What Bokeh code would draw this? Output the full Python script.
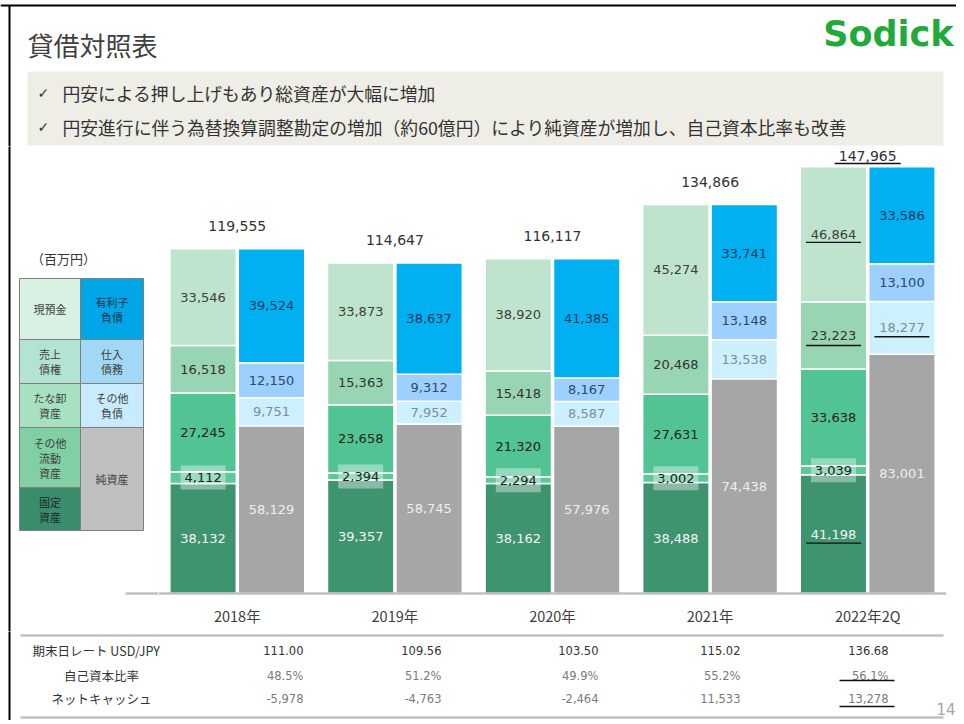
from bokeh.plotting import figure
from bokeh.models import Range1d, FactorRange, ColumnDataSource, Span
from bokeh.layouts import column, row
from bokeh.transform import dodge
from bokeh.core.properties import value
from bokeh.embed import file_html
from bokeh.resources import INLINE

# ---------------- data ----------------
years = ["2018年", "2019年", "2020年", "2021年", "2022年2Q"]
fixed_assets = [38132, 39357, 38162, 38488, 41198]
other_current = [4112, 2394, 2294, 3002, 3039]
inventories = [27245, 23658, 21320, 27631, 33638]
receivables = [16518, 15363, 15418, 20468, 23223]
cash = [33546, 33873, 38920, 45274, 46864]
net_assets = [58129, 58745, 57976, 74438, 83001]
other_liab = [9751, 7952, 8587, 13538, 18277]
payables = [12150, 9312, 8167, 13148, 13100]
debt = [39524, 38637, 41385, 33741, 33586]
totals = [119555, 114647, 116117, 134866, 147965]
fx_rate = [111.00, 109.56, 103.50, 115.02, 136.68]
equity_ratio = [48.5, 51.2, 49.9, 55.2, 56.1]
net_cash = [-5978, -4763, -2464, 11533, 13278]

title = "貸借対照表"
bullets = ["円安による押し上げもあり総資産が大幅に増加",
           "円安進行に伴う為替換算調整勘定の増加（約60億円）により純資産が増加し、自己資本比率も改善"]
row_labels = ["期末日レート USD/JPY", "自己資本比率", "ネットキャッシュ"]

# ---------------- styles ----------------
JP = value("Noto Sans CJK JP")
NUM = value("DejaVu Sans")
W = 956
Y_MID, Y_BASE, Y_TAB, Y_END_PX = 146, 593, 631, 720
LEG_W = 158

asset_series = [fixed_assets, other_current, inventories, receivables, cash]
asset_colors = ["#3f9470", "#5ec89a", "#52c493", "#98d6b3", "#bfe4cd"]
asset_text = ["#f4f4f4", "#222222", "#1e1e1e", "#333333", "#404040"]
liab_series = [net_assets, other_liab, payables, debt]
liab_colors = ["#a6a6a6", "#cdf0ff", "#9dcfff", "#00b0f0"]
liab_text = ["#eeeeee", "#7f8c99", "#2e4a66", "#17375e"]

OFF = 34.25 / 157.75
BW = 66.5 / 157.75
UPP = 155000 / 447  # data units per pixel


def base_fig(w, h, **kw):
    f = figure(width=w, height=h, title=None, x_axis_location=None, y_axis_location=None,
               min_border=0, outline_line_color=None, toolbar_location=None,
               output_backend="svg", background_fill_color="white",
               border_fill_color="white", **kw)
    f.xgrid.visible = False
    f.ygrid.visible = False
    return f


def pixfig(w, h, x0, x1, y0, y1):
    return base_fig(w, h, x_range=Range1d(x0, x1), y_range=Range1d(y1, y0))


# ---------------- header ----------------
head = pixfig(W, Y_MID, 0, W, 0, Y_MID)
head.line([0, W], [5, 5], line_color="black", line_width=2)
head.line([9, 9], [5, Y_MID + 10], line_color="black", line_width=2)
head.text(x=[27], y=[44], text=[title], text_font=JP, text_font_size="26px",
          text_color="#404040", text_baseline="middle", text_align="left")
head.text(x=[953], y=[33], text=["Sodick"], text_font=value("DejaVu Sans"),
          text_font_style="bold", text_font_size="35px", text_color="#1faa3a",
          text_baseline="middle", text_align="right")
head.quad(left=[27], right=[943], top=[71], bottom=[145], fill_color="#eeede6", line_color=None)
for yy, t in zip([92, 126], bullets):
    head.text(x=[37], y=[yy], text=["✓"], text_font=NUM, text_font_size="14px",
              text_color="#333333", text_baseline="middle", text_align="left")
    head.text(x=[62], y=[yy], text=[t], text_font=JP, text_font_size="17.8px",
              text_color="#333333", text_baseline="middle", text_align="left")

# ---------------- legend ----------------
leg = pixfig(LEG_W, Y_TAB - Y_MID, 0, LEG_W, Y_MID, Y_TAB)
leg.line([9, 9], [Y_MID - 10, Y_TAB + 10], line_color="black", line_width=2)
leg.line([125, LEG_W], [Y_BASE, Y_BASE], line_color="#c0c0c0", line_width=2.5)
leg.text(x=[63], y=[258], text=["（百万円）"], text_font=JP, text_font_size="13px",
         text_color="#333333", text_baseline="middle", text_align="center")
cells = [
    (19, 80, 278, 339, "#d8f1e3", ["現預金"], "#404040"),
    (19, 80, 339, 383, "#b3e3d2", ["売上", "債権"], "#404040"),
    (19, 80, 383, 427, "#a8e0c2", ["たな卸", "資産"], "#404040"),
    (19, 80, 427, 487, "#80d0a4", ["その他", "流動", "資産"], "#404040"),
    (19, 80, 487, 530, "#3a8d6c", ["固定", "資産"], "#1c2c24"),
    (80, 143, 278, 339, "#00a6e6", ["有利子", "負債"], "#1f3050"),
    (80, 143, 339, 383, "#a0d8f5", ["仕入", "債務"], "#404040"),
    (80, 143, 383, 427, "#c8ecfd", ["その他", "負債"], "#404040"),
    (80, 143, 427, 530, "#c0c0c0", ["純資産"], "#404040"),
]
for l, r, t, b, c, lines, tc in cells:
    leg.quad(left=[l], right=[r], top=[t], bottom=[b], fill_color=c,
             line_color="#808080", line_width=1)
    cy = (t + b) / 2
    n = len(lines)
    for k, s in enumerate(lines):
        leg.text(x=[(l + r) / 2], y=[cy + (k - (n - 1) / 2) * 15], text=[s], text_font=JP,
                 text_font_size="11px", text_color=tc, text_baseline="middle",
                 text_align="center")

# ---------------- bars ----------------
bar = base_fig(W - LEG_W, Y_TAB - Y_MID, x_range=FactorRange(factors=years),
               y_range=Range1d(-(Y_TAB - Y_BASE) * UPP, (Y_BASE - Y_MID) * UPP),
               min_border_right=10)
Y_TOP = (Y_BASE - Y_MID) * UPP
bar.add_layout(Span(location=0, dimension="width", line_color="#c0c0c0", line_width=2.5))

data = dict(year=years)
akeys, lkeys = [], []
for i, s in enumerate(asset_series):
    data[f"a{i}"] = s
    akeys.append(f"a{i}")
for i, s in enumerate(liab_series):
    data[f"l{i}"] = s
    lkeys.append(f"l{i}")
src = ColumnDataSource(data)

bar.vbar_stack(akeys, x=dodge("year", -OFF, range=bar.x_range), width=BW,
               fill_color=asset_colors, line_color="white", line_width=1.5, source=src)
bar.vbar_stack(lkeys, x=dodge("year", OFF, range=bar.x_range), width=BW,
               fill_color=liab_colors, line_color="white", line_width=1.5, source=src)

# category (year) labels under the baseline
ysrc = ColumnDataSource(dict(year=years, y=[-22 * UPP] * len(years)))
bar.text(x="year", y="y", text="year", text_font=JP, text_font_size="14.5px",
         text_color="#404040", text_align="center", text_baseline="middle", source=ysrc)


def seg_labels(series, colors):
    yr, mid, txt, col = [], [], [], []
    for i, y in enumerate(years):
        base = 0
        for s, c in zip(series, colors):
            v = s[i]
            yr.append(y); mid.append(base + v / 2); txt.append(f"{v:,}"); col.append(c)
            base += v
    return ColumnDataSource(dict(year=yr, mid=mid, txt=txt, col=col))


# label backgrounds for the thin "other current assets" segment
box_mid = [fixed_assets[i] + other_current[i] / 2 for i in range(len(years))]
bsrc = ColumnDataSource(dict(year=years, mid=box_mid))
bar.rect(x=dodge("year", -OFF, range=bar.x_range), y="mid", width=45, height=24,
         width_units="screen", height_units="screen", fill_color="white",
         fill_alpha=0.38, line_color=None, source=bsrc)

for series, colors, sign in [(asset_series, asset_text, -1), (liab_series, liab_text, 1)]:
    s = seg_labels(series, colors)
    bar.text(x=dodge("year", sign * OFF, range=bar.x_range), y="mid", text="txt",
             text_color="col", text_font=NUM, text_font_size="13px",
             text_align="center", text_baseline="middle", source=s)

# totals
tot_y = [min(t + 23 * UPP, Y_TOP - 9 * UPP) for t in totals]
tsrc = ColumnDataSource(dict(year=years, y=tot_y, txt=[f"{t:,}" for t in totals]))
bar.text(x="year", y="y", text="txt", text_font=NUM, text_font_size="14px",
         text_color="#333333", text_align="center", text_baseline="middle", source=tsrc)

# underlines on latest period (2022年2Q)
last = len(years) - 1
cum = 0
a_mids = []
for s in asset_series:
    a_mids.append(cum + s[last] / 2); cum += s[last]
cum = 0
l_mids = []
for s in liab_series:
    l_mids.append(cum + s[last] / 2); cum += s[last]
ul = ColumnDataSource(dict(
    year=[years[last]] * 3,
    y=[a_mids[0] - 9 * UPP, a_mids[3] - 10 * UPP, a_mids[4] - 8 * UPP]))
bar.rect(x=dodge("year", -OFF, range=bar.x_range), y="y", width=55, height=1.4,
         width_units="screen", height_units="screen", fill_color="#111111",
         line_color=None, source=ul)
ul2 = ColumnDataSource(dict(year=[years[last]], y=[l_mids[1] - 9 * UPP]))
bar.rect(x=dodge("year", OFF, range=bar.x_range), y="y", width=55, height=1.4,
         width_units="screen", height_units="screen", fill_color="#111111",
         line_color=None, source=ul2)
ul3 = ColumnDataSource(dict(year=[years[last]], y=[tot_y[last] - 8 * UPP]))
bar.rect(x="year", y="y", width=66, height=1.4, width_units="screen",
         height_units="screen", fill_color="#111111", line_color=None, source=ul3)

# ---------------- table ----------------
tab = pixfig(W, Y_END_PX - Y_TAB, 0, W, Y_TAB, Y_END_PX)
tab.line([9, 9], [Y_TAB - 10, Y_END_PX + 5], line_color="black", line_width=2)
tab.line([20, 943], [635, 635], line_color="#c0c0c0", line_width=2.5)
tab.line([20, 943], [717, 717], line_color="#c0c0c0", line_width=2.5)
row_y = [650, 675, 698]
tab.text(x=[32], y=[row_y[0]], text=[row_labels[0]], text_font=JP, text_font_size="12.5px",
         text_color="#333333", text_align="left", text_baseline="middle")
for yy, t in zip(row_y[1:], row_labels[1:]):
    tab.text(x=[101], y=[yy], text=[t], text_font=JP, text_font_size="12.5px",
             text_color="#333333", text_align="center", text_baseline="middle")
col_right = [303, 441, 598, 740, 888]
rows = [([f"{v:.2f}" for v in fx_rate], "#333333"),
        ([f"{v:.1f}%" for v in equity_ratio], "#7a7a7a"),
        ([f"{v:,}" for v in net_cash], "#7a7a7a")]
for (vals, colr), yy in zip(rows, row_y):
    tab.text(x=col_right, y=[yy] * len(vals), text=vals, text_font=NUM,
             text_font_size="11.5px", text_color=colr, text_align="right",
             text_baseline="middle")
tab.segment(x0=[839, 839], y0=[680, 706], x1=[894, 894], y1=[680, 706],
            line_color="#111111", line_width=1.3)
tab.text(x=[955], y=[708], text=["14"], text_font=NUM, text_font_size="15px",
         text_color="#a6a6a6", text_align="right", text_baseline="middle")

layout = column(head, row(leg, bar), tab)
open("out.html", "w").write(file_html(layout, INLINE))
